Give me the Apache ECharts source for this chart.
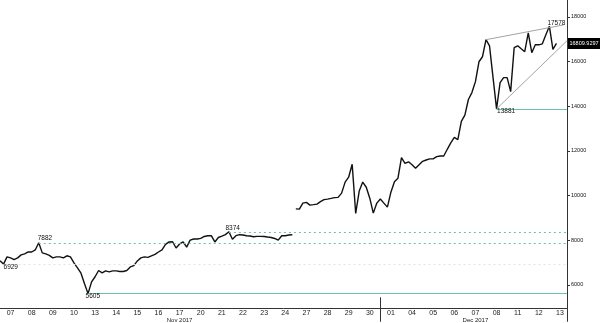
<!DOCTYPE html>
<html><head><meta charset="utf-8">
<script src="https://cdn.jsdelivr.net/npm/echarts@6/dist/echarts.min.js"></script>
<style>html,body{margin:0;padding:0;background:#fff}#c{width:600px;height:323px}</style>
</head><body><div id="c"></div>
<script>
// Weekday slots on the x axis (Bloomberg-style business-day axis)
const dayLabels = ['07','08','09','10','13','14','15','16','17','20','21','22','23','24','27','28','29','30','01','04','05','06','07','08','11','12','13'];
const monthLabels = {8: 'Nov 2017', 22: 'Dec 2017'};
const pointsPerDay = 6;
const monthBreakIndex = 108;

// Price before the Nov 24 gap
const priceEarly = [7080,6929,7250,7205,7130,7205,7340,7385,7470,7470,7560,7882,7430,7385,7320,7205,7250,7250,7205,7300,7250,6980,6760,6520,6045,5605,6130,6360,6640,6535,6625,6580,6625,6625,6595,6595,6640,6800,6860,7070,7205,7250,7230,7295,7360,7470,7560,7810,7920,7930,7650,7830,7920,7690,8000,8050,8050,8080,8165,8200,8200,7920,8120,8180,8250,8374,8040,8200,8245,8230,8200,8185,8155,8170,8170,8165,8140,8120,8075,8000,8200,8200,8230,8245];
// Price after the gap
const priceLate = [9400,9390,9660,9690,9570,9590,9615,9725,9815,9840,9870,9905,9915,10105,10600,10820,11400,9200,10200,10600,10370,9880,9210,9660,9840,9660,9480,10150,10620,10775,11700,11440,11510,11375,11220,11375,11530,11590,11640,11640,11740,11770,11770,12070,12360,12600,12500,13320,13600,14300,14610,15100,15990,16215,16980,16700,15280,13881,15055,15280,15280,14655,16620,16705,16570,16440,17285,16395,16750,16750,16795,17200,17578,16550,16809.9297];
const lastPrice = 16809.9297;

const yTickValues = [6000,8000,10000,12000,14000,16000,18000];
const yMin = 4950, yMax = 18757;

// Annotated levels: [start index, value]
const levelDashed = [[65, 8374],[11, 7882]];
const levelFaint = [[1, 6929]];
const levelSolid = [[25, 5605],[141, 13881]];
const trendUpper = [[138, 16980],[160, 17640]];
const trendLower = [[141, 13881],[161, 16930]];
const pointLabels = [[1, 6929],[11, 7882],[25, 5605],[65, 8374],[141, 13881],[156, 17578]];

const categories = [];
dayLabels.forEach((d, s) => { for (let k = 0; k < pointsPerDay; k++) categories.push(s + '-' + d + '-' + k); });
const lastIdx = categories.length - 1;
const lateStart = priceEarly.length;
const seriesA = categories.map((_, i) => i < priceEarly.length ? priceEarly[i] : null);
const seriesB = categories.map((_, i) => (i >= lateStart && i < lateStart + priceLate.length) ? priceLate[i - lateStart] : null);

const FONT = 'Liberation Sans, Arial, sans-serif';
const teal = '#6cc1ae';
const labelOffsets = [[0.5,4],[-0.5,-4.5],[-2,3.5],[-3,-3],[1,3],[-1.5,-2.5]];

const toEnd = (arr) => arr.map(([i, v]) => [{coord: [categories[i], v]}, {coord: [categories[lastIdx], v]}]);
const pair = (t) => [{coord: [categories[t[0][0]], t[0][1]]}, {coord: [categories[t[1][0]], t[1][1]]}];

function markSeries(name, data, color, type) {
  return {
    name: name, type: 'line', data: [], z: 1, silent: true,
    markLine: {silent: true, symbol: ['none','none'], label: {show: false}, animation: false,
      lineStyle: {color: color, type: type, width: 1, opacity: 1}, emphasis: {disabled: true}, data: data}
  };
}

const chart = echarts.init(document.getElementById('c'), null, {renderer:'canvas'});
chart.setOption({
  animation: false,
  backgroundColor: '#fff',
  grid: {left: 0, right: 33, top: 0, bottom: 13.5, containLabel: false},
  xAxis: {
    type: 'category', data: categories, boundaryGap: false,
    axisLine: {show: true, lineStyle: {color: '#333', width: 1}},
    axisTick: {show: true, length: 13.5, interval: (i) => i === monthBreakIndex || i === lastIdx, lineStyle: {color: '#333'}},
    axisLabel: {
      interval: (i) => i % pointsPerDay === 3, margin: 1.5, color: '#222', fontFamily: FONT,
      formatter: (val, i) => {
        const s = Math.floor(i / pointsPerDay);
        const d = '{d|' + dayLabels[s] + '}';
        return monthLabels[s] ? d + '\n{m|' + monthLabels[s] + '}' : d;
      },
      rich: {d: {fontSize: 7, lineHeight: 7, fontFamily: FONT, color: '#222'}, m: {fontSize: 6, lineHeight: 6.5, fontFamily: FONT, color: '#222'}}
    },
    splitLine: {show: false}
  },
  yAxis: {
    type: 'value', position: 'right', min: yMin, max: yMax, scale: true,
    splitLine: {show: false},
    axisLine: {show: true, lineStyle: {color: '#333', width: 1}},
    axisTick: {show: true, length: 3, customValues: yTickValues, lineStyle: {color: '#333'}},
    axisLabel: {customValues: yTickValues, fontSize: 5.5, color: '#111', margin: 4, fontFamily: FONT, formatter: (v) => String(v)}
  },
  series: [
    markSeries('dashed', toEnd(levelDashed), teal, [2,3]),
    markSeries('faint', toEnd(levelFaint), '#dae7e4', [2,3]),
    markSeries('solid', toEnd(levelSolid), teal, 'solid'),
    markSeries('trend', [pair(trendUpper), pair(trendLower)], '#a3a3a3', 'solid'),
    markSeries('sep', [[{coord: [categories[monthBreakIndex], yMin]}, {coord: [categories[monthBreakIndex], yMin + 11 * (yMax - yMin) / 309.5]}]], '#333', 'solid'),
    {
      type: 'line', data: seriesA, showSymbol: false, connectNulls: false, z: 3,
      lineStyle: {color: '#111', width: 1.4}, itemStyle: {color: '#111'},
      markPoint: {
        silent: true, symbol: 'rect', symbolSize: 1, itemStyle: {color: 'rgba(0,0,0,0)'},
        data: pointLabels.map(([i, v], n) => ({
          coord: [categories[i], v],
          label: {show: true, formatter: String(v), position: labelOffsets[n], align: 'left', verticalAlign: 'middle', fontSize: 6.5, color: '#111', fontFamily: FONT}
        }))
      }
    },
    {
      type: 'line', data: seriesB, showSymbol: false, connectNulls: false, z: 3,
      lineStyle: {color: '#111', width: 1.4}, itemStyle: {color: '#111'},
      markLine: {
        silent: true, symbol: ['none','none'], z: 6,
        lineStyle: {color: 'rgba(0,0,0,0)', width: 0, type: 'solid'},
        label: {show: true, position: 'end', distance: 1, formatter: () => String(lastPrice), backgroundColor: '#000', color: '#fff', fontSize: 5.5, padding: [3, 1.5, 2, 1.5], fontFamily: FONT},
        data: [{yAxis: lastPrice}]
      }
    }
  ]
});
</script></body></html>
